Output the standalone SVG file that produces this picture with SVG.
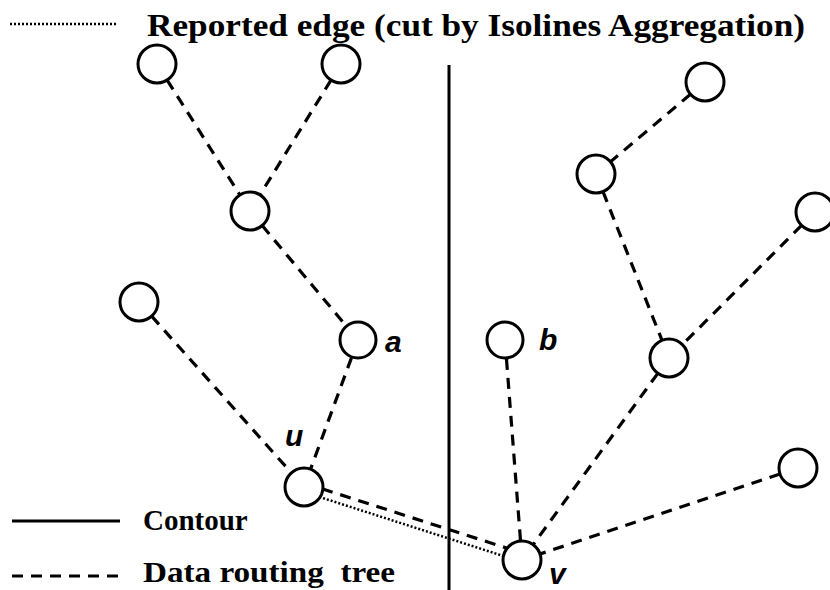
<svg xmlns="http://www.w3.org/2000/svg" width="830" height="590" viewBox="0 0 830 590">
  <style>
    .node { fill: #fff; stroke: #000; stroke-width: 3; }
    .tree { stroke: #000; stroke-width: 3.2; stroke-dasharray: 11 8; fill: none; }
    .reported { stroke: #000; stroke-width: 2.5; stroke-dasharray: 2 2; fill: none; }
    .contour { stroke: #000; stroke-width: 3; fill: none; }
    .legend { font-family: "Liberation Serif", "Times New Roman", serif; font-weight: bold; fill: #000; }
    .lbl { font-family: "Liberation Sans", Arial, sans-serif; font-weight: bold; font-style: italic; font-size: 30px; fill: #000; }
  </style>
  <rect width="830" height="590" fill="#fff"/>

  <!-- legend -->
  <g id="legend">
    <line class="reported" x1="10" y1="24" x2="117" y2="24"/>
    <text class="legend" x="147" y="36" font-size="32" textLength="658" lengthAdjust="spacingAndGlyphs">Reported edge (cut by Isolines Aggregation)</text>
    <line class="contour" x1="12" y1="521" x2="120" y2="521"/>
    <text class="legend" x="143" y="530" font-size="29">Contour</text>
    <line class="tree" x1="12" y1="576" x2="120" y2="576"/>
    <text class="legend" x="143" y="582" font-size="30" textLength="252" lengthAdjust="spacingAndGlyphs" xml:space="preserve">Data routing  tree</text>
  </g>

  <!-- contour boundary -->
  <line class="contour" x1="449" y1="65" x2="449" y2="590"/>

  <!-- connectors -->
  <g id="connectors">
    <line class="tree" x1="157" y1="64" x2="250" y2="211"/>
    <line class="tree" x1="341" y1="64" x2="250" y2="211"/>
    <line class="tree" x1="250" y1="211" x2="358" y2="340"/>
    <line class="tree" x1="358" y1="340" x2="304" y2="487"/>
    <line class="tree" x1="139" y1="302" x2="304" y2="487"/>
    <line class="tree" x1="304" y1="483" x2="522" y2="553"/>
    <line class="reported" x1="304" y1="492" x2="522" y2="562"/>
    <line class="tree" x1="505" y1="340" x2="522" y2="560"/>
    <line class="tree" x1="705" y1="82" x2="596" y2="174"/>
    <line class="tree" x1="596" y1="174" x2="669" y2="358"/>
    <line class="tree" x1="815" y1="212" x2="669" y2="358"/>
    <line class="tree" x1="669" y1="358" x2="522" y2="560"/>
    <line class="tree" x1="798" y1="468" x2="522" y2="560"/>
  </g>

  <!-- nodes -->
  <g id="n1"><circle class="node" cx="157" cy="64" r="19"/></g>
  <g id="n2"><circle class="node" cx="341" cy="64" r="19"/></g>
  <g id="n3"><circle class="node" cx="250" cy="211" r="19"/></g>
  <g id="n4"><circle class="node" cx="139" cy="302" r="19"/></g>
  <g id="a"><circle class="node" cx="358" cy="340" r="18"/><text class="lbl" x="385" y="352">a</text></g>
  <g id="u"><circle class="node" cx="304" cy="487" r="19"/><text class="lbl" x="285" y="446">u</text></g>
  <g id="b"><circle class="node" cx="505" cy="340" r="18"/><text class="lbl" x="539" y="350">b</text></g>
  <g id="v"><circle class="node" cx="522" cy="560" r="19"/><text class="lbl" x="549" y="584">v</text></g>
  <g id="n5"><circle class="node" cx="705" cy="82" r="19"/></g>
  <g id="n6"><circle class="node" cx="596" cy="174" r="19"/></g>
  <g id="n7"><circle class="node" cx="815" cy="212" r="19"/></g>
  <g id="n8"><circle class="node" cx="669" cy="358" r="19"/></g>
  <g id="n9"><circle class="node" cx="798" cy="468" r="19"/></g>
</svg>
